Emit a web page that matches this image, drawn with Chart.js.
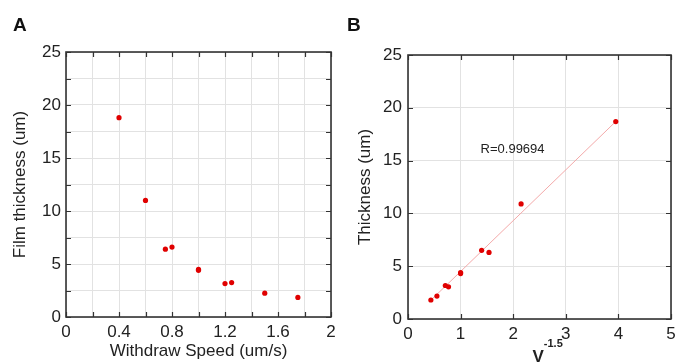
<!DOCTYPE html>
<html>
<head>
<meta charset="utf-8">
<script src="https://cdn.jsdelivr.net/npm/chart.js@4/dist/chart.umd.min.js"></script>
<style>
  html, body { margin: 0; padding: 0; background: #fff; }
  .panel { position: absolute; top: 0; }
  #panelA { left: 0; width: 340px; height: 362px; }
  #panelB { left: 340px; width: 335px; height: 362px; }
</style>
</head>
<body>
<div class="panel" id="panelA"><canvas id="chartA"></canvas></div>
<div class="panel" id="panelB"><canvas id="chartB"></canvas></div>
<script>
// Panel A: film thickness vs withdraw speed
const withdrawSpeed = [0.4, 0.6, 0.75, 0.8, 1.0, 1.0, 1.2, 1.25, 1.5, 1.75];
const filmThickness = [18.8, 11.0, 6.4, 6.6, 4.5, 4.4, 3.15, 3.25, 2.25, 1.85];

// Panel B: thickness vs V^-1.5
const invSpeed = [3.95, 2.15, 1.54, 1.40, 1.0, 1.0, 0.77, 0.71, 0.55, 0.435];
const thicknessB = [18.7, 10.9, 6.3, 6.5, 4.4, 4.3, 3.05, 3.17, 2.17, 1.8];

// Linear fit drawn in panel B
const fitX = [0.435, 3.95];
const fitY = [1.78, 18.7];
const fitLabel = "R=0.99694";

const FONT = "'Liberation Sans', Arial, Helvetica, sans-serif";
const RED = "#e00000";

const toPoints = (xs, ys) => xs.map((x, i) => ({ x: x, y: ys[i] }));

/**
 * Draw the box round the plot area with inward tick marks on all sides.
 */
const framePlugin = {
  id: "frame",
  afterDatasetsDraw(chart) {
    const { ctx, chartArea: a, scales } = chart;
    const len = 5;
    ctx.save();
    ctx.strokeStyle = "#333";
    ctx.lineWidth = 1.2;
    ctx.beginPath();
    scales.x.ticks.forEach((t) => {
      const px = Math.round(scales.x.getPixelForValue(t.value)) + 0.5;
      ctx.moveTo(px, a.bottom);
      ctx.lineTo(px, a.bottom - len);
      ctx.moveTo(px, a.top);
      ctx.lineTo(px, a.top + len);
    });
    scales.y.ticks.forEach((t) => {
      const py = Math.round(scales.y.getPixelForValue(t.value)) + 0.5;
      ctx.moveTo(a.left, py);
      ctx.lineTo(a.left + len, py);
      ctx.moveTo(a.right, py);
      ctx.lineTo(a.right - len, py);
    });
    ctx.stroke();
    ctx.lineWidth = 1.6;
    ctx.strokeRect(a.left, a.top, a.right - a.left, a.bottom - a.top);
    ctx.restore();
  },
};

/**
 * Panel letter and any free text given in plugin options.
 */
const labelsPlugin = {
  id: "labels",
  afterDraw(chart, args, opts) {
    const { ctx } = chart;
    ctx.save();
    ctx.fillStyle = "#111";
    ctx.textBaseline = "alphabetic";
    ctx.textAlign = "left";
    ctx.font = "bold 19px " + FONT;
    ctx.fillText(opts.letter, opts.letterX, 31);
    if (opts.note) {
      const n = opts.note;
      ctx.font = "13px " + FONT;
      ctx.fillStyle = "#222";
      ctx.textBaseline = "middle";
      ctx.fillText(n.text, chart.scales.x.getPixelForValue(n.x), chart.scales.y.getPixelForValue(n.y));
    }
    if (opts.xTitle) {
      const cx = (chart.chartArea.left + chart.chartArea.right) / 2;
      ctx.fillStyle = "#222";
      ctx.textBaseline = "alphabetic";
      ctx.font = "bold 17px " + FONT;
      const w = ctx.measureText("V").width;
      ctx.fillText("V", cx - 7, 362);
      ctx.font = "bold 11px " + FONT;
      ctx.fillText("-1.5", cx - 7 + w, 347);
    }
    ctx.restore();
  },
};

const makeOptions = (cfg) => ({
  responsive: true,
  maintainAspectRatio: false,
  animation: false,
  layout: { padding: { left: 0, top: cfg.top, right: cfg.right, bottom: 0 } },
  plugins: {
    legend: { display: false },
    tooltip: { enabled: false },
    labels: cfg.labels,
  },
  scales: {
    x: {
      type: "linear",
      min: cfg.xMin,
      max: cfg.xMax,
      ticks: {
        stepSize: cfg.xStep,
        autoSkip: false,
        maxRotation: 0,
        padding: 5,
        color: "#222",
        font: { family: FONT, size: 17 },
        callback: cfg.xLabel,
      },
      grid: { color: "#e2e2e2", drawTicks: false },
      border: { display: false },
      title: {
        display: !!cfg.xTitle,
        text: cfg.xTitle || "",
        color: "#222",
        font: { family: FONT, size: 17 },
        padding: { top: 0, bottom: 0 },
      },
      afterFit(scale) {
        scale.height = cfg.xHeight;
        scale.paddingLeft = 0;
        scale.paddingRight = 0;
      },
    },
    y: {
      type: "linear",
      min: 0,
      max: 25,
      ticks: {
        stepSize: cfg.yStep,
        autoSkip: false,
        padding: cfg.yPad,
        color: "#222",
        font: { family: FONT, size: 17 },
        callback: (v) => (v % 5 === 0 ? String(v) : ""),
      },
      grid: { color: "#e2e2e2", drawTicks: false },
      border: { display: false },
      title: {
        display: true,
        text: cfg.yTitle,
        color: "#222",
        font: { family: FONT, size: 17 },
        padding: { top: cfg.yTitlePad, bottom: 0 },
      },
      afterFit(scale) {
        scale.width = cfg.yWidth;
        scale.paddingTop = 0;
        scale.paddingBottom = 0;
      },
    },
  },
});

new Chart(document.getElementById("chartA").getContext("2d"), {
  type: "scatter",
  data: {
    datasets: [
      {
        data: toPoints(withdrawSpeed, filmThickness),
        backgroundColor: RED,
        borderColor: RED,
        pointRadius: 2.6,
        borderWidth: 0,
      },
    ],
  },
  options: makeOptions({
    top: 52,
    right: 9,
    xMin: 0,
    xMax: 2,
    xStep: 0.2,
    xHeight: 45,
    xTitle: "Withdraw Speed (um/s)",
    xLabel: (v) => (Math.round(v * 10) % 4 === 0 ? String(+v.toFixed(1)) : ""),
    yStep: 2.5,
    yPad: 5,
    yWidth: 66,
    yTitle: "Film thickness (um)",
    yTitlePad: 10,
    labels: { letter: "A", letterX: 13 },
  }),
  plugins: [framePlugin, labelsPlugin],
});

new Chart(document.getElementById("chartB").getContext("2d"), {
  type: "scatter",
  data: {
    datasets: [
      {
        data: toPoints(invSpeed, thicknessB),
        backgroundColor: RED,
        borderColor: RED,
        pointRadius: 2.6,
        borderWidth: 0,
      },
      {
        type: "line",
        data: toPoints(fitX, fitY),
        borderColor: "#f3a9a9",
        borderWidth: 1,
        pointRadius: 0,
        fill: false,
        order: 1,
      },
    ],
  },
  options: makeOptions({
    top: 55,
    right: 3,
    xMin: 0,
    xMax: 5,
    xStep: 1,
    xHeight: 43,
    xTitle: "",
    xLabel: (v) => String(v),
    yStep: 5,
    yPad: 6,
    yWidth: 68,
    yTitle: "Thickness (um)",
    yTitlePad: 15,
    labels: {
      letter: "B",
      letterX: 7,
      note: { text: fitLabel, x: 1.38, y: 16.1 },
      xTitle: true,
    },
  }),
  plugins: [framePlugin, labelsPlugin],
});
</script>
</body>
</html>
